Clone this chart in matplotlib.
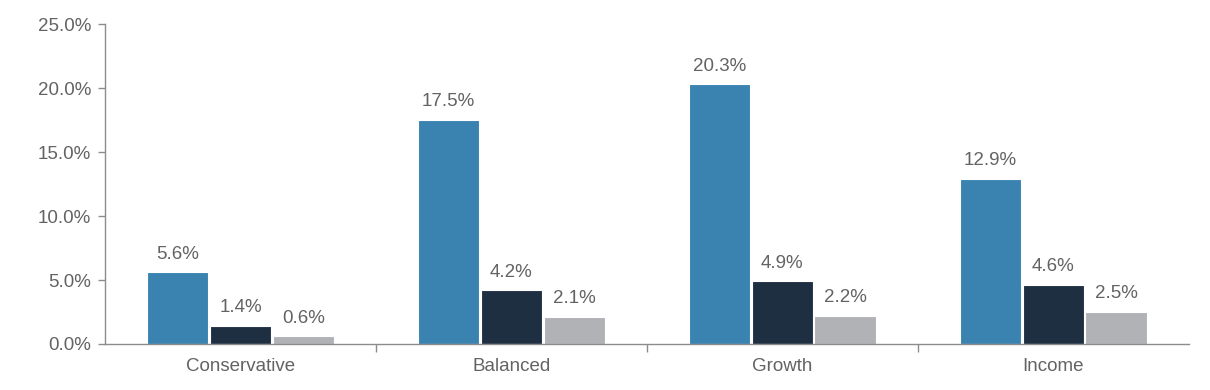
import numpy as np
import matplotlib.pyplot as plt
from matplotlib.ticker import PercentFormatter

plt.rcParams['font.family'] = ['Liberation Sans', 'DejaVu Sans']

categories = ['Conservative', 'Balanced', 'Growth', 'Income']
series_a = [5.6, 17.5, 20.3, 12.9]
series_b = [1.4, 4.2, 4.9, 4.6]
series_c = [0.6, 2.1, 2.2, 2.5]

colors = ['#3A82B0', '#1F2F42', '#B1B2B6']
text_color = '#636363'
spine_color = '#8C8C8C'

fig = plt.figure(figsize=(12.1, 3.9), dpi=100)
ax = fig.add_axes([0.0868, 0.118, 0.8955, 0.820])

x = np.arange(len(categories))
width = 0.226
offsets = [-0.232, 0.0, 0.232]
fs = 13.5

for vals, off, col in zip([series_a, series_b, series_c], offsets, colors):
    bars = ax.bar(x + off, vals, width, color=col, edgecolor='white', linewidth=0.8)
    for b, v in zip(bars, vals):
        ax.annotate(f'{v:.1f}%', (b.get_x() + b.get_width() / 2, v),
                    xytext=(0, 7), textcoords='offset points',
                    ha='center', va='bottom', fontsize=fs, color=text_color)

ax.set_xlim(-0.5, 3.5)
ax.set_ylim(0, 25)
ax.set_yticks(np.arange(0, 26, 5))
ax.yaxis.set_major_formatter(PercentFormatter(decimals=1))

ax.set_xticks(x)
ax.set_xticklabels(categories)
ax.set_xticks([0.5, 1.5, 2.5], minor=True)
ax.tick_params(axis='x', which='major', length=0, pad=10, labelsize=fs, labelcolor=text_color)
ax.tick_params(axis='x', which='minor', length=6, width=1, color=spine_color, direction='out')
ax.tick_params(axis='y', length=5, width=1, color=spine_color, labelsize=fs,
               labelcolor=text_color, pad=5)

for side in ['top', 'right']:
    ax.spines[side].set_visible(False)
for side in ['left', 'bottom']:
    ax.spines[side].set_color(spine_color)
    ax.spines[side].set_linewidth(1)

plt.savefig('out.png', dpi=100)
